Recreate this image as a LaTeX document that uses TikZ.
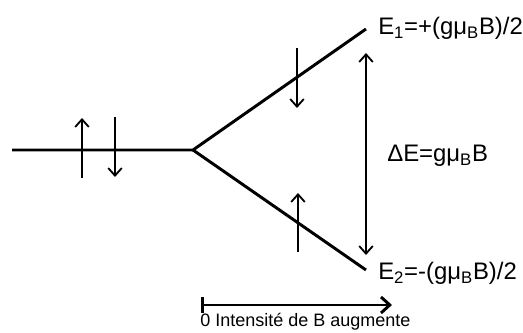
\documentclass[tikz,border=0pt]{standalone}
\usepackage{fontspec}
\setmainfont{Liberation Sans}
\usepackage{tikz}
\usetikzlibrary{positioning,arrows.meta}

\begin{document}
\begin{tikzpicture}[
    level/.style={line width=2.1pt},
    spin/.style={line width=1.3pt, -{Straight Barb[length=1.9mm,width=3.4mm]}},
    lbl/.style={anchor=base west, inner sep=0pt, font=\fontsize{17}{20}\selectfont},
  ]
  \useasboundingbox (0,0) rectangle (13.075,8.325);
  % energy levels
  \coordinate (start) at (0.3,4.575);
  \coordinate (split) at (4.825,4.575);
  \coordinate (upper) at (9.15,7.6);
  \coordinate (lower) at (9.15,1.575);
  \draw[level] (start) -- (split) -- (upper);
  \draw[level] (split) -- (lower);
  % spins at zero field
  \coordinate (upA) at (2.05,3.875);   \coordinate (upB) at (2.05,5.375);
  \coordinate (dnA) at (2.875,5.4);    \coordinate (dnB) at (2.875,3.9);
  \draw[spin] (upA) -- (upB);
  \draw[spin] (dnA) -- (dnB);
  % spins on the split levels
  \coordinate (hiA) at (7.425,7.125);  \coordinate (hiB) at (7.425,5.625);
  \coordinate (loA) at (7.45,2.025);   \coordinate (loB) at (7.45,3.5);
  \draw[spin] (hiA) -- (hiB);
  \draw[spin] (loA) -- (loB);
  % gap
  \coordinate (gapTop) at (9.15,7.0);
  \coordinate (gapBot) at (9.15,1.95);
  \draw[spin, {Straight Barb[length=1.9mm,width=3.4mm]}-{Straight Barb[length=1.9mm,width=3.4mm]}] (gapTop) -- (gapBot);
  \node[lbl] (eone) at (9.45,7.45) {E\textsubscript{1}=+(gμ\textsubscript{B}B)/2};
  \node[lbl] (etwo) at (9.45,1.325) {E\textsubscript{2}=-(gμ\textsubscript{B}B)/2};
  \node[lbl] (delta) at (9.675,4.275) {ΔE=gμ\textsubscript{B}B};
  % field axis
  \coordinate (zero) at (5.025,0.7);
  \coordinate (bmax) at (9.8,0.7);
  \draw[line width=2.1pt, {Bar[width=4mm]}-{Straight Barb[length=2.2mm,width=4mm]}] (zero) -- (bmax);
  \node[lbl, font=\fontsize{12.8}{15}\selectfont] (axis) at (5.0,0.15) {0 Intensité de B augmente};
\end{tikzpicture}
\end{document}
